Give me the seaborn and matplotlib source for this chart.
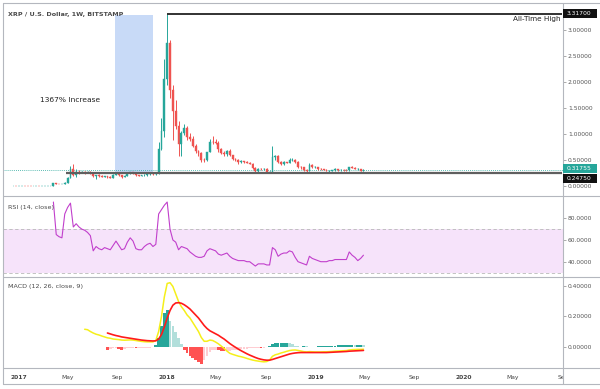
import matplotlib
matplotlib.use("Agg")
import matplotlib.pyplot as plt
import matplotlib.dates as mdates
from matplotlib.lines import Line2D
from matplotlib.patches import Rectangle
from matplotlib.transforms import Bbox, TransformedBbox
import seaborn as sns
import pandas as pd
import numpy as np

# weekly candles, XRP/USD (Bitstamp), first week 2016-12-19
weeks = pd.date_range("2016-12-19", periods=124, freq="7D")

opens = [.0063, .0065, .0064, .0066, .0068, .0066, .0064, .0063, .0064, .0067,
         .0064, .0069, .0075, .0088, .0095, .055, .042, .035, .038, .065,
         .160, .330, .220, .270, .260, .270, .260, .270, .255, .185,
         .205, .195, .180, .190, .175, .165, .215, .240, .210, .180,
         .190, .245, .265, .250, .210, .200, .205, .220, .230, .250,
         .230, .255, .720, 1.05, 2.05, 2.75, 1.85, 1.45, 1.15, .800,
         1.02, 1.12, .950, .900, .780, .670, .630, .510, .500, .660,
         .850, .840, .830, .720, .640, .610, .670, .590, .530, .500,
         .460, .480, .460, .450, .430, .350, .290, .330, .320, .330,
         .280, .280, .560, .580, .470, .420, .460, .450, .510, .510,
         .470, .370, .360, .310, .290, .410, .360, .360, .330, .320,
         .310, .300, .300, .305, .320, .310, .312, .310, .308, .360,
         .350, .320, .322, .300]
highs = [.0066, .0067, .0071, .0070, .0070, .0068, .0066, .0066, .0069, .0068,
         .0070, .0078, .0092, .0115, .065, .065, .045, .040, .070, .180,
         .380, .430, .330, .310, .300, .290, .300, .290, .265, .215,
         .230, .205, .200, .200, .190, .240, .260, .250, .220, .210,
         .260, .280, .280, .260, .220, .210, .230, .240, .260, .260,
         .265, .850, 1.30, 2.45, 3.317, 2.80, 1.95, 1.65, 1.25, 1.05,
         1.20, 1.16, 1.02, .960, .800, .700, .650, .550, .660, .910,
         .960, .910, .860, .740, .680, .690, .720, .600, .550, .520,
         .500, .490, .490, .470, .440, .360, .350, .350, .350, .350,
         .300, .780, .600, .590, .490, .480, .470, .550, .550, .520,
         .480, .390, .370, .320, .450, .430, .380, .370, .340, .330,
         .320, .310, .310, .340, .320, .320, .320, .320, .370, .380,
         .360, .340, .330, .320]
lows = [.0061, .0062, .0060, .0064, .0064, .0063, .0062, .0061, .0063, .0063,
        .0063, .0067, .0072, .0085, .0092, .038, .032, .032, .036, .060,
        .150, .200, .180, .240, .250, .240, .250, .230, .170, .140,
        .180, .170, .170, .165, .150, .160, .205, .195, .150, .170,
        .185, .235, .240, .200, .190, .190, .195, .200, .220, .220,
        .220, .240, .700, .950, 1.95, 1.70, .880, 1.10, .570, .570,
        .980, .880, .860, .750, .640, .570, .460, .460, .490, .650,
        .800, .800, .660, .620, .570, .580, .580, .500, .480, .430,
        .450, .450, .440, .430, .330, .280, .250, .310, .310, .270,
        .250, .280, .500, .450, .400, .410, .440, .440, .490, .450,
        .350, .330, .300, .280, .290, .350, .340, .310, .310, .310,
        .290, .280, .290, .300, .300, .300, .300, .300, .300, .340,
        .320, .310, .290, .290]
closes = [.0065, .0064, .0066, .0068, .0066, .0064, .0063, .0064, .0067, .0064,
          .0069, .0075, .0088, .0095, .055, .042, .035, .038, .065, .160,
          .330, .220, .270, .260, .270, .260, .270, .255, .185, .205,
          .195, .180, .190, .175, .165, .215, .240, .210, .180, .190,
          .245, .265, .250, .210, .200, .205, .220, .230, .250, .230,
          .255, .720, 1.05, 2.05, 2.75, 1.85, 1.45, 1.15, .800, 1.02,
          1.12, .950, .900, .780, .670, .630, .510, .500, .660, .850,
          .840, .830, .720, .640, .610, .670, .590, .530, .500, .460,
          .480, .460, .450, .430, .350, .290, .330, .320, .330, .280,
          .280, .560, .580, .470, .420, .460, .450, .510, .510, .470,
          .370, .360, .310, .290, .410, .360, .360, .330, .320, .310,
          .300, .300, .305, .320, .310, .312, .310, .308, .360, .350,
          .320, .322, .300, .31755]

# RSI(14) from week 14 on
rsi = [95, 65, 63, 62, 84, 90, 94, 72, 75, 72,
       70, 69, 67, 64, 50, 54, 52, 51, 53, 52,
       51, 55, 59, 55, 51, 52, 58, 62, 59, 52,
       51, 51, 54, 56, 57, 54, 56, 84, 88, 92,
       95, 70, 60, 58, 51, 54, 53, 52, 49, 47,
       45, 44, 44, 45, 50, 52, 51, 50, 47, 46,
       47, 48, 45, 43, 42, 41, 41, 41, 40, 40,
       38, 36, 38, 38, 38, 37, 37, 53, 51, 45,
       47, 48, 48, 50, 49, 44, 40, 39, 38, 37,
       45, 43, 42, 41, 40, 40, 40, 41, 41, 42,
       42, 42, 42, 42, 49, 46, 44, 41, 43, 46]

# MACD(12, 26, 9) line from week 25, signal and histogram from week 33
macd = [.115, .112, .100, .090, .082, .077, .070, .064, .058, .055,
        .050, .048, .046, .043, .042, .043, .044, .043, .040, .037,
        .034, .032, .031, .031, .031, .040, .100, .200, .330, .420,
        .425, .400, .350, .300, .265, .240, .210, .190, .160, .130,
        .100, .060, .035, .035, .043, .040, .030, .018, .003, -.012,
        -.030, -.045, -.052, -.058, -.064, -.068, -.073, -.079, -.085, -.090,
        -.094, -.097, -.100, -.102, -.100, -.090, -.065, -.055, -.050, -.043,
        -.038, -.032, -.027, -.024, -.023, -.026, -.030, -.034, -.036, -.034,
        -.035, -.036, -.036, -.036, -.035, -.035, -.034, -.033, -.031, -.030,
        -.029, -.028, -.027, -.023, -.021, -.020, -.019, -.019, -.018]
signal = [.090, .084, .078, .073, .069, .064, .061, .058, .055, .052,
          .049, .046, .043, .041, .039, .038, .037, .038, .050, .080,
          .130, .190, .240, .275, .290, .292, .288, .278, .265, .250,
          .230, .210, .190, .165, .140, .120, .105, .095, .085, .075,
          .062, .050, .035, .020, .007, -.005, -.017, -.028, -.038, -.048,
          -.057, -.065, -.073, -.080, -.085, -.089, -.091, -.091, -.086, -.080,
          -.074, -.068, -.062, -.056, -.050, -.046, -.043, -.041, -.040, -.040,
          -.040, -.040, -.040, -.040, -.040, -.040, -.040, -.040, -.039, -.038,
          -.037, -.036, -.035, -.034, -.033, -.031, -.030, -.029, -.028, -.027,
          -.026]
hist = [-.020, -.018, -.012, -.012, -.015, -.020, -.018, -.012, -.008, -.008,
        -.010, -.010, -.010, -.009, -.008, -.007, -.006, .010, .060, .140,
        .220, .240, .170, .140, .100, .060, .020, -.020, -.040, -.060,
        -.075, -.090, -.105, -.115, -.090, -.060, -.035, -.025, -.020, -.025,
        -.030, -.033, -.030, -.028, -.025, -.022, -.020, -.018, -.016, -.015,
        -.013, -.012, -.010, -.008, -.012, -.008, -.005, .005, .020, .022,
        .022, .022, .024, .024, .022, .015, .006, .002, -.002, .004,
        .003, -.002, -.002, -.002, .001, .002, .002, .002, .004, .005,
        .006, .007, .008, .008, .008, .010, .010, .009, .009, .009,
        .008]

ath_price = 3.317
support_price = 0.2475
last_price = 0.31755
date_ticks = ["2017-01-01", "2017-05-01", "2017-09-01", "2018-01-01", "2018-05-01",
              "2018-09-01", "2019-01-01", "2019-05-01", "2019-09-01", "2020-01-01",
              "2020-05-01", "2020-09-01"]
date_labels = ["2017", "May", "Sep", "2018", "May", "Sep", "2019", "May", "Sep",
               "2020", "May", "Sep"]

UP, DOWN = "#26a69a", "#ef5350"
GRID = "#b4b7be"
TXT = "#4a4a4a"

sns.set_style("white")
plt.rcParams["font.family"] = ["DejaVu Sans"]

W, H = 600, 389
fig = plt.figure(figsize=(6, 3.89), dpi=100)


def px_box(x0, y0, x1, y1):
    # pixel box measured from top-left -> figure fraction rect
    return [x0 / W, 1 - y1 / H, (x1 - x0) / W, (y1 - y0) / H]


ax_p = fig.add_axes(px_box(3, 3, 563, 196))
ax_r = fig.add_axes(px_box(3, 196, 563, 277), sharex=ax_p)
ax_m = fig.add_axes(px_box(3, 277, 563, 368), sharex=ax_p)

# ---- price panel ----
o, h, l, c = map(np.array, (opens, highs, lows, closes))
cols = np.where(c >= o, UP, DOWN)
ax_p.add_patch(Rectangle((mdates.date2num(pd.Timestamp("2017-08-25")), support_price),
                         mdates.date2num(pd.Timestamp("2017-11-26")) - mdates.date2num(pd.Timestamp("2017-08-25")),
                         3.29 - support_price, fc="#c8daf7", ec="none", zorder=0))
ax_p.vlines(weeks, l, h, colors=cols, lw=0.7, zorder=2)
ax_p.bar(weeks, np.abs(c - o), bottom=np.minimum(o, c), width=4.5, color=cols,
         edgecolor=cols, linewidth=0.3, zorder=3)
ax_p.axhline(last_price, color=UP, lw=0.6, ls=(0, (1, 1.5)), zorder=1)
ax_p.hlines(ath_price, pd.Timestamp("2018-01-01"), pd.Timestamp("2020-08-30"),
            color="#222222", lw=1.3, zorder=4)
ax_p.hlines(support_price, pd.Timestamp("2017-04-28"), pd.Timestamp("2020-08-30"),
            color="#5f5f5f", lw=1.6, zorder=4)
ax_p.set_ylim(-0.19, 3.52)
ax_p.set_yticks([0, 0.5, 1.0, 1.5, 2.0, 2.5, 3.0])
ax_p.yaxis.set_major_formatter(matplotlib.ticker.FormatStrFormatter("%.5f"))
ax_p.text(0.009, 0.943, "XRP / U.S. Dollar, 1W, BITSTAMP", transform=ax_p.transAxes,
          fontsize=4.6, color=TXT, va="center", ha="left", fontweight="bold")
ax_p.text(0.066, 0.497, "1367% Increase", transform=ax_p.transAxes,
          fontsize=5.4, color="#222222", va="center", ha="left")
ax_p.text(0.995, 0.917, "All-Time High", transform=ax_p.transAxes,
          fontsize=5.2, color="#222222", va="center", ha="right")

# ---- RSI panel ----
rsi_df = pd.DataFrame({"date": weeks[14:], "rsi": rsi})
ax_r.axhspan(30, 70, color="#f6e3fa", lw=0, zorder=0)
for lvl in (30, 70):
    ax_r.axhline(lvl, color="#b9b9b9", lw=0.6, ls=(0, (4, 3)), zorder=1)
sns.lineplot(data=rsi_df, x="date", y="rsi", ax=ax_r, color="#c13fcc", lw=0.8, zorder=3)
ax_r.set_ylim(25.9, 100.55)
ax_r.set_yticks([40, 60, 80])
ax_r.yaxis.set_major_formatter(matplotlib.ticker.FormatStrFormatter("%.4f"))
ax_r.text(0.009, 0.864, "RSI (14, close)", transform=ax_r.transAxes,
          fontsize=4.6, color=TXT, va="center", ha="left")

# ---- MACD panel ----
hist_cols = []
prev = 0.0
for v in hist:
    if v >= 0:
        hist_cols.append("#26a69a" if v >= prev else "#b2dfdb")
    else:
        hist_cols.append("#ff5252" if v < prev else "#ffcdd2")
    prev = v
ax_m.bar(weeks[33:], hist, width=6.5, color=hist_cols, linewidth=0, zorder=1)
macd_df = pd.DataFrame({"date": weeks[25:], "macd": macd})
sig_df = pd.DataFrame({"date": weeks[33:], "signal": signal})
sns.lineplot(data=macd_df, x="date", y="macd", ax=ax_m, color="#f5ef1a", lw=1.1, zorder=3)
sns.lineplot(data=sig_df, x="date", y="signal", ax=ax_m, color="#ff1a1a", lw=1.2, zorder=4)
ax_m.set_ylim(-0.143, 0.463)
ax_m.set_yticks([0.0, 0.2, 0.4])
ax_m.yaxis.set_major_formatter(matplotlib.ticker.FormatStrFormatter("%.5f"))
ax_m.text(0.009, 0.90, "MACD (12, 26, close, 9)", transform=ax_m.transAxes,
          fontsize=4.6, color=TXT, va="center", ha="left")

# ---- shared styling ----
ax_p.set_xlim(pd.Timestamp("2016-11-23"), pd.Timestamp("2020-08-30"))
for ax in (ax_p, ax_r, ax_m):
    ax.set_xlabel("")
    ax.set_ylabel("")
    for sp in ax.spines.values():
        sp.set_visible(False)
    ax.yaxis.tick_right()
    ax.tick_params(axis="y", length=2, width=0.5, color="#8a8a8a", labelsize=4.3,
                   labelcolor="#555555", pad=1.5)
    ax.patch.set_alpha(0)
for ax in (ax_p, ax_r):
    ax.tick_params(axis="x", bottom=False, labelbottom=False)

ax_m.set_xticks([mdates.date2num(pd.Timestamp(d)) for d in date_ticks])
ax_m.set_xticklabels(date_labels)
ax_m.tick_params(axis="x", length=2, width=0.5, color="#8a8a8a", labelsize=4.3,
                 labelcolor="#444444", pad=2.8)
clip = TransformedBbox(Bbox([[0, -1], [1, 0]]), ax_m.transAxes)
for tick, lab in zip(ax_m.xaxis.get_major_ticks(), date_labels):
    tick.label1.set_clip_box(clip)
    tick.label1.set_clip_on(True)
    if lab.isdigit():
        tick.label1.set_fontweight("bold")

# price tags on the right scale
def price_tag(y, text, fc, dy=0):
    ypx = H - ax_p.transData.transform((0, y))[1] + dy
    fig.patches.append(Rectangle((563 / W, 1 - (ypx + 4.5) / H), 34 / W, 9 / H,
                                 transform=fig.transFigure, fc=fc, ec="none", zorder=5))
    fig.text(567 / W, 1 - ypx / H, text, fontsize=4.3, color="white",
             va="center", ha="left", zorder=6)

price_tag(ath_price, "3.31700", "#111111")
price_tag(last_price, "0.31755", UP, -1)
price_tag(support_price, "0.24750", "#111111", 5.5)

# frame and panel separators (pixel coords)
def fig_line(x0, y0, x1, y1, **kw):
    fig.add_artist(Line2D([x0 / W, x1 / W], [1 - y0 / H, 1 - y1 / H],
                          transform=fig.transFigure, **kw))

for yy in (3, 196, 277, 368, 384):
    fig_line(3, yy, 600, yy, color=GRID, lw=0.8)
fig_line(3, 3, 3, 384, color=GRID, lw=0.8)
fig_line(563, 3, 563, 384, color=GRID, lw=0.8)

fig.savefig("out.png", dpi=100, facecolor="white")
